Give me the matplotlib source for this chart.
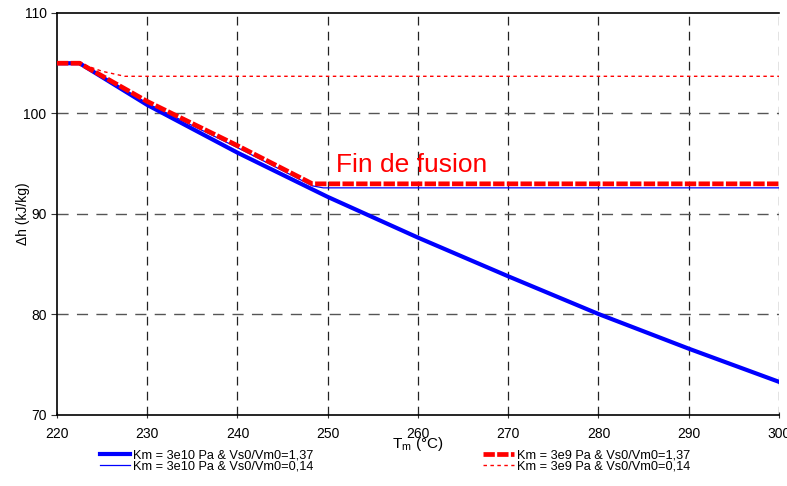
import matplotlib
matplotlib.use("Agg")
import matplotlib.pyplot as plt

plt.rcParams["font.family"] = ["Liberation Sans", "DejaVu Sans"]

# Km = 3e10 Pa & Vs0/Vm0=1,37 (thick blue)
T_b1 = [220, 222.5, 230, 240, 250, 260, 270, 280, 290, 300]
h_b1 = [105.0, 105.0, 100.85, 96.1, 91.7, 87.65, 83.8, 80.05, 76.6, 73.3]

# Km = 3e10 Pa & Vs0/Vm0=0,14 (thin blue)
T_b2 = [220, 222.5, 230, 240, 248.3, 249.5, 300]
h_b2 = [105.0, 105.0, 101.0, 96.6, 92.8, 92.6, 92.6]

# Km = 3e9 Pa & Vs0/Vm0=1,37 (thick red dashed)
T_r1 = [220, 222.5, 230, 240, 248.3, 300]
h_r1 = [105.0, 105.0, 101.2, 96.8, 93.0, 93.0]

# Km = 3e9 Pa & Vs0/Vm0=0,14 (red dotted)
T_r2 = [220, 222.5, 225, 227.5, 300]
h_r2 = [105.0, 105.0, 104.2, 103.7, 103.7]

labels = [
    "Km = 3e10 Pa & Vs0/Vm0=1,37",
    "Km = 3e10 Pa & Vs0/Vm0=0,14",
    "Km = 3e9 Pa & Vs0/Vm0=1,37",
    "Km = 3e9 Pa & Vs0/Vm0=0,14",
]

fig = plt.figure(figsize=(7.87, 4.86), dpi=100)
ax = fig.add_axes([0.0724, 0.1461, 0.9174, 0.8272])

# grid
for x in range(230, 301, 10):
    ax.axvline(x, color="#222222", lw=0.9, ls=(0, (7, 5)), zorder=1)
for y in range(80, 101, 10):
    ax.axhline(y, color="#555555", lw=1.0, ls=(0, (8, 6)), zorder=1)

l1, = ax.plot(T_b1, h_b1, color="#0000ff", lw=3, zorder=3)
l2, = ax.plot(T_b2, h_b2, color="#0000ff", lw=0.9, zorder=4)
l3, = ax.plot(T_r1, h_r1, color="#ff0000", lw=3.4, ls=(0, (2.4, 0.5)), zorder=5)
l4, = ax.plot(T_r2, h_r2, color="#ff0000", lw=1.0, ls=(0, (2.5, 2.5)), zorder=5)

ax.text(250.9, 94.2, "Fin de fusion", color="#ff0000", fontsize=19)

ax.set_xlim(220, 300)
ax.set_ylim(70, 110)
ax.set_xticks(range(220, 301, 10))
ax.set_yticks(range(70, 111, 10))
ax.tick_params(axis="both", labelsize=10, length=4, width=0.8, color="#333333")
ax.tick_params(axis="x", direction="inout", pad=7)
ax.spines["right"].set_visible(False)
for s in ["left", "bottom", "top"]:
    ax.spines[s].set_linewidth(1.2)

ax.set_xlabel("T$_\\mathregular{m}$ (°C)", fontsize=11, labelpad=-5)
ax.set_ylabel("Δh (kJ/kg)", fontsize=10, labelpad=-5)

fig.legend([l1, l2, l3, l4], labels, loc="lower left", bbox_to_anchor=(0.117, 0.012),
           ncol=2, frameon=False, fontsize=9.2, handlelength=2.4, handletextpad=0.2,
           columnspacing=13.3, labelspacing=-0.1, borderaxespad=0.2)

fig.savefig("out.png", dpi=100)
